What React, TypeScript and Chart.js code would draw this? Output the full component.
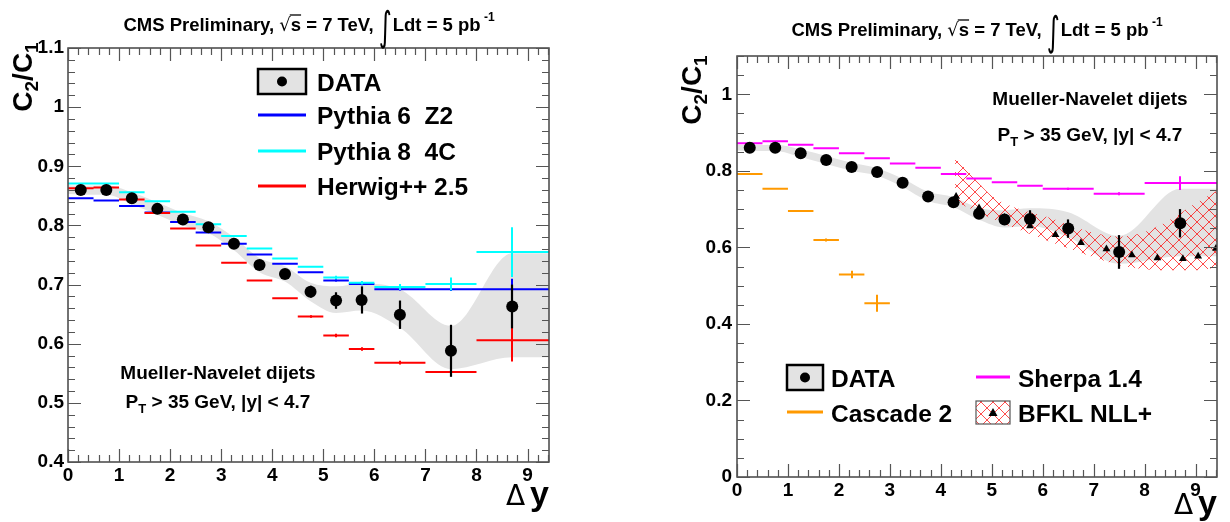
import React, { useEffect, useRef } from "react";
import { Chart, registerables } from "chart.js";
Chart.register(...registerables);

const FONT = "'Liberation Sans', Arial, Helvetica, sans-serif";

// ---------------- data ----------------
const binEdges = [0, 0.5, 1, 1.5, 2, 2.5, 3, 3.5, 4, 4.5, 5, 5.5, 6, 7, 8, 9.42];
const binCenters = [0.25, 0.75, 1.25, 1.75, 2.25, 2.75, 3.25, 3.75, 4.25, 4.75, 5.25, 5.75, 6.5, 7.5, 8.7];

const dataValues = [0.860, 0.860, 0.846, 0.828, 0.810, 0.797, 0.769, 0.733, 0.718, 0.688, 0.673, 0.674, 0.649, 0.588, 0.663];
const dataStatErr = [0.002, 0.002, 0.002, 0.003, 0.003, 0.003, 0.004, 0.004, 0.005, 0.010, 0.014, 0.023, 0.024, 0.044, 0.037];

const sysBandX = [0, 0.25, 0.75, 1.25, 1.75, 2.25, 2.75, 3.25, 3.75, 4.25, 4.75, 5.25, 5.75, 6.5, 7.5, 8.7, 9.42];
const sysBandHigh = [0.868, 0.867, 0.868, 0.856, 0.839, 0.821, 0.807, 0.780, 0.745, 0.731, 0.703, 0.697, 0.702, 0.692, 0.630, 0.753, 0.753];
const sysBandLow = [0.853, 0.852, 0.852, 0.836, 0.818, 0.800, 0.787, 0.758, 0.721, 0.705, 0.672, 0.652, 0.656, 0.627, 0.557, 0.577, 0.577];

const pythia6Z2 = [0.846, 0.842, 0.833, 0.822, 0.806, 0.788, 0.769, 0.751, 0.735, 0.721, 0.707, 0.701, 0.692, 0.692, 0.692];
const pythia6Z2Err = [0, 0, 0, 0, 0, 0, 0, 0, 0, 0, 0.002, 0.002, 0.002, 0.003, 0.018];
const pythia8_4C = [0.871, 0.871, 0.856, 0.841, 0.823, 0.802, 0.782, 0.761, 0.744, 0.730, 0.712, 0.703, 0.696, 0.701, 0.755];
const pythia8_4CErr = [0, 0, 0, 0, 0, 0, 0, 0, 0, 0, 0.003, 0.003, 0.005, 0.011, 0.042];
const herwig25 = [0.863, 0.864, 0.844, 0.821, 0.795, 0.766, 0.737, 0.707, 0.677, 0.646, 0.614, 0.591, 0.568, 0.552, 0.606];
const herwig25Err = [0, 0, 0, 0, 0, 0, 0, 0, 0, 0.002, 0.003, 0.003, 0.003, 0.006, 0.036];

const sherpa14 = [0.872, 0.877, 0.868, 0.859, 0.846, 0.833, 0.819, 0.808, 0.792, 0.780, 0.770, 0.761, 0.753, 0.740, 0.768];
const sherpa14Err = [0, 0, 0, 0, 0, 0, 0, 0, 0, 0, 0, 0, 0.003, 0.004, 0.018];
const cascade2 = [0.792, 0.753, 0.695, 0.619, 0.529, 0.454];
const cascade2Err = [0, 0, 0.002, 0.004, 0.010, 0.022];

const bfklBandX = [4.28, 4.6, 5.0, 5.5, 6.0, 6.5, 7.0, 7.5, 8.0, 8.5, 9.0, 9.42];
const bfklBandHigh = [0.835, 0.790, 0.735, 0.702, 0.683, 0.660, 0.638, 0.628, 0.640, 0.672, 0.715, 0.748];
const bfklBandLow = [0.720, 0.700, 0.675, 0.648, 0.622, 0.598, 0.574, 0.553, 0.543, 0.540, 0.540, 0.548];
const bfklPointX = [4.3, 4.75, 5.25, 5.75, 6.25, 6.75, 7.25, 7.75, 8.25, 8.75, 9.05, 9.4];
const bfklPointY = [0.733, 0.703, 0.678, 0.656, 0.633, 0.612, 0.596, 0.580, 0.572, 0.570, 0.577, 0.597];

const xTicks = [0, 1, 2, 3, 4, 5, 6, 7, 8, 9];
const xTickLabels = ["0", "1", "2", "3", "4", "5", "6", "7", "8", "9"];
const yTicksLeft = [0.4, 0.5, 0.6, 0.7, 0.8, 0.9, 1.0, 1.1];
const yTickLabelsLeft = ["0.4", "0.5", "0.6", "0.7", "0.8", "0.9", "1", "1.1"];
const yTicksRight = [0, 0.2, 0.4, 0.6, 0.8, 1.0];
const yTickLabelsRight = ["0", "0.2", "0.4", "0.6", "0.8", "1"];

// ---------------- helpers ----------------
const W = 615;
const H = 522;

function histPoints(values: number[]) {
  const pts: any[] = [];
  values.forEach((v, i) => {
    pts.push({ x: binEdges[i], y: v }, { x: binEdges[i + 1], y: v }, { x: binEdges[i + 1], y: null });
  });
  return pts;
}

function xy(xs: number[], ys: number[]) {
  return xs.map((x, i) => ({ x, y: ys[i] }));
}

function makeHatch(): CanvasPattern | string {
  const c = document.createElement("canvas");
  c.width = 12;
  c.height = 12;
  const g = c.getContext("2d");
  if (!g) return "rgba(255,0,0,0.3)";
  g.clearRect(0, 0, 12, 12);
  g.strokeStyle = "rgba(255,0,0,0.7)";
  g.lineWidth = 1;
  g.beginPath();
  g.moveTo(-1, -1);
  g.lineTo(13, 13);
  g.moveTo(13, -1);
  g.lineTo(-1, 13);
  g.stroke();
  return g.createPattern(c, "repeat") || "rgba(255,0,0,0.3)";
}

function histDataset(values: number[], errs: number[], color: string, order: number) {
  return {
    type: "line",
    data: histPoints(values),
    borderColor: color,
    borderWidth: 2,
    pointRadius: 0,
    fill: false,
    spanGaps: false,
    order,
    errBars: { x: binCenters.slice(0, values.length), y: values, e: errs, color, width: 2 },
  };
}

const errorBarPlugin = {
  id: "errBars",
  afterDatasetDraw(chart: any, args: any) {
    const ds: any = chart.data.datasets[args.index];
    const eb = ds && ds.errBars;
    if (!eb) return;
    const { ctx, scales } = chart;
    const x = scales.x;
    const y = scales.y;
    ctx.save();
    ctx.strokeStyle = eb.color;
    ctx.lineWidth = eb.width;
    eb.y.forEach((v: number, i: number) => {
      const e = eb.e[i];
      if (!e) return;
      const px = Math.round(x.getPixelForValue(eb.x[i]));
      ctx.beginPath();
      ctx.moveTo(px, y.getPixelForValue(v - e));
      ctx.lineTo(px, y.getPixelForValue(v + e));
      ctx.stroke();
    });
    ctx.restore();
  },
};

function frameTickPlugin(yMinorStep: number, yMajorEvery: number, yMax: number, yMin: number) {
  return {
    id: "frameTicks",
    afterDatasetsDraw(chart: any) {
      const { ctx, chartArea: a, scales } = chart;
      const x = scales.x;
      const y = scales.y;
      ctx.save();
      ctx.strokeStyle = "#444";
      ctx.lineWidth = 1.5;
      ctx.strokeRect(a.left, a.top, a.right - a.left, a.bottom - a.top);
      ctx.lineWidth = 1.2;
      ctx.strokeStyle = "#555";
      ctx.beginPath();
      for (let i = 0; i * 0.2 <= 9.42 + 1e-9; i++) {
        const px = Math.round(x.getPixelForValue(i * 0.2)) + 0.5;
        const len = i % 5 === 0 ? 13 : 7;
        ctx.moveTo(px, a.bottom);
        ctx.lineTo(px, a.bottom - len);
        ctx.moveTo(px, a.top);
        ctx.lineTo(px, a.top + len);
      }
      const n = Math.round((yMax - yMin) / yMinorStep);
      for (let i = 0; i <= n; i++) {
        const py = Math.round(y.getPixelForValue(yMin + i * yMinorStep)) + 0.5;
        const len = i % yMajorEvery === 0 ? 13 : 7;
        ctx.moveTo(a.left, py);
        ctx.lineTo(a.left + len, py);
        ctx.moveTo(a.right, py);
        ctx.lineTo(a.right - len, py);
      }
      ctx.stroke();
      ctx.restore();
    },
  };
}

type Seg = { t: string; font: string; dy?: number; over?: boolean; scaleY?: number; gap?: number };
function drawRich(ctx: CanvasRenderingContext2D, segs: Seg[], x: number, y: number, align: string) {
  let w = 0;
  segs.forEach((s) => {
    ctx.font = s.font;
    w += ctx.measureText(s.t).width + (s.gap || 0);
  });
  let cx = align === "left" ? x : align === "center" ? x - w / 2 : x - w;
  ctx.textBaseline = "alphabetic";
  ctx.textAlign = "left";
  segs.forEach((s) => {
    ctx.font = s.font;
    const sw = ctx.measureText(s.t).width;
    const by = y + (s.dy || 0);
    if (s.scaleY) {
      ctx.save();
      ctx.translate(cx, by);
      ctx.scale(1, s.scaleY);
      ctx.fillText(s.t, 0, 0);
      ctx.restore();
    } else {
      ctx.fillText(s.t, cx, by);
    }
    if (s.over) {
      ctx.save();
      ctx.lineWidth = 1.3;
      ctx.strokeStyle = ctx.fillStyle as string;
      ctx.beginPath();
      ctx.moveTo(cx - 1, by - 16);
      ctx.lineTo(cx + sw, by - 16);
      ctx.stroke();
      ctx.restore();
    }
    cx += sw + (s.gap || 0);
  });
}

function drawTitle(ctx: CanvasRenderingContext2D, cx: number, baseY: number) {
  const f = `bold 18.5px ${FONT}`;
  ctx.fillStyle = "#000";
  drawRich(
    ctx,
    [
      { t: "CMS Preliminary, ", font: f },
      { t: "\u221A", font: `18px 'DejaVu Sans'` },
      { t: "s", font: f, over: true },
      { t: " = 7 TeV, ", font: f },
      { t: "\u222B", font: `25px 'DejaVu Sans'`, dy: 9, scaleY: 1.6, gap: 1 },
      { t: "Ldt = 5 pb", font: f },
      { t: " -1", font: `bold 12px ${FONT}`, dy: -10 },
    ],
    cx,
    baseY,
    "center"
  );
}

function drawYTitle(ctx: CanvasRenderingContext2D, cx: number, cy: number) {
  ctx.save();
  ctx.translate(cx, cy);
  ctx.rotate(-Math.PI / 2);
  ctx.fillStyle = "#000";
  const big = `bold 28px ${FONT}`;
  const sub = `bold 19px ${FONT}`;
  drawRich(
    ctx,
    [
      { t: "C", font: big },
      { t: "2", font: sub, dy: 6 },
      { t: "/C", font: big },
      { t: "1", font: sub, dy: 6 },
    ],
    0,
    10,
    "center"
  );
  ctx.restore();
}

function drawDeltaY(ctx: CanvasRenderingContext2D, rightX: number, baseY: number) {
  ctx.fillStyle = "#000";
  drawRich(
    ctx,
    [
      { t: "\u0394", font: `28px 'DejaVu Sans'`, gap: 5 },
      { t: "y", font: `bold 34px ${FONT}` },
    ],
    rightX,
    baseY,
    "right"
  );
}

function drawAnnot(ctx: CanvasRenderingContext2D, cx: number, y1: number, y2: number) {
  ctx.fillStyle = "#000";
  const f = `bold 19px ${FONT}`;
  drawRich(ctx, [{ t: "Mueller-Navelet dijets", font: f }], cx, y1 + 7, "center");
  drawRich(
    ctx,
    [
      { t: "P", font: f },
      { t: "T", font: `bold 13px ${FONT}`, dy: 5 },
      { t: " > 35 GeV, |y| < 4.7", font: f },
    ],
    cx,
    y2 + 7,
    "center"
  );
}

function drawDataBox(ctx: CanvasRenderingContext2D, x: number, y: number, w: number, h: number) {
  ctx.fillStyle = "#e3e3e3";
  ctx.fillRect(x, y, w, h);
  ctx.strokeStyle = "#000";
  ctx.lineWidth = 2.5;
  ctx.strokeRect(x, y, w, h);
  ctx.fillStyle = "#000";
  ctx.beginPath();
  ctx.arc(x + w / 2, y + h / 2, 5, 0, Math.PI * 2);
  ctx.fill();
}

function legendText(ctx: CanvasRenderingContext2D, t: string, x: number, cy: number) {
  ctx.fillStyle = "#000";
  ctx.font = `bold 24.5px ${FONT}`;
  ctx.textAlign = "left";
  ctx.textBaseline = "alphabetic";
  ctx.fillText(t, x, cy + 9);
}

function legendLine(ctx: CanvasRenderingContext2D, x1: number, x2: number, y: number, color: string) {
  ctx.strokeStyle = color;
  ctx.lineWidth = 3;
  ctx.beginPath();
  ctx.moveTo(x1, y);
  ctx.lineTo(x2, y);
  ctx.stroke();
}

function scalesFor(yMin: number, yMax: number, yTicks: number[], yLabels: string[], areaLeft: number, areaBottom: number, yPad: number, xPad: number) {
  const tickFont = { family: FONT, size: 19, weight: "bold" as const };
  return {
    x: {
      type: "linear",
      min: 0,
      max: 9.42,
      grid: { display: false, drawTicks: false },
      border: { display: false },
      afterBuildTicks: (s: any) => {
        s.ticks = xTicks.map((v) => ({ value: v }));
      },
      afterFit: (s: any) => {
        s.height = H - areaBottom;
      },
      ticks: {
        autoSkip: false,
        maxRotation: 0,
        padding: xPad,
        color: "#000",
        font: tickFont,
        callback: (_v: any, i: number) => xTickLabels[i],
      },
    },
    y: {
      type: "linear",
      min: yMin,
      max: yMax,
      grid: { display: false, drawTicks: false },
      border: { display: false },
      afterBuildTicks: (s: any) => {
        s.ticks = yTicks.map((v) => ({ value: v }));
      },
      afterFit: (s: any) => {
        s.width = areaLeft;
      },
      ticks: {
        autoSkip: false,
        padding: yPad,
        color: "#000",
        font: tickFont,
        callback: (_v: any, i: number) => yLabels[i],
      },
    },
  };
}

function bandDatasets(xs: number[], hi: number[], lo: number[], fillColor: any, order: number) {
  return [
    {
      type: "line",
      data: xy(xs, hi),
      borderWidth: 0,
      borderColor: "rgba(0,0,0,0)",
      pointRadius: 0,
      cubicInterpolationMode: "monotone",
      fill: "+1",
      backgroundColor: fillColor,
      order,
    },
    {
      type: "line",
      data: xy(xs, lo),
      borderWidth: 0,
      borderColor: "rgba(0,0,0,0)",
      pointRadius: 0,
      cubicInterpolationMode: "monotone",
      fill: false,
      order,
    },
  ];
}

function dataDataset(order: number) {
  return {
    type: "line",
    data: xy(binCenters, dataValues),
    showLine: false,
    pointRadius: 6,
    pointBackgroundColor: "#000",
    pointBorderWidth: 0,
    borderColor: "#000",
    order,
    errBars: { x: binCenters, y: dataValues, e: dataStatErr, color: "#000", width: 2.2 },
  };
}

function leftConfig(): any {
  const area = { left: 68, right: 549, top: 48, bottom: 462 };
  const decor = {
    id: "decorLeft",
    afterDraw(chart: any) {
      const ctx = chart.ctx as CanvasRenderingContext2D;
      ctx.save();
      drawTitle(ctx, 309, 31);
      drawYTitle(ctx, 22, 77);
      drawDeltaY(ctx, 549, 505);
      drawAnnot(ctx, 218, 372, 401);
      drawDataBox(ctx, 258, 69, 48, 25);
      legendText(ctx, "DATA", 317, 82);
      legendLine(ctx, 258, 306, 115, "#0000ff");
      legendText(ctx, "Pythia 6  Z2", 317, 115);
      legendLine(ctx, 258, 306, 151, "#00ffff");
      legendText(ctx, "Pythia 8  4C", 317, 151);
      legendLine(ctx, 258, 306, 186, "#ff0000");
      legendText(ctx, "Herwig++ 2.5", 317, 186);
      ctx.restore();
    },
  };
  return {
    data: {
      datasets: [
        dataDataset(0),
        histDataset(herwig25, herwig25Err, "#ff0000", 2),
        histDataset(pythia8_4C, pythia8_4CErr, "#00ffff", 3),
        histDataset(pythia6Z2, pythia6Z2Err, "#0000ff", 4),
        ...bandDatasets(sysBandX, sysBandHigh, sysBandLow, "#e3e3e3", 10),
      ],
    },
    options: {
      responsive: false,
      animation: false,
      events: [],
      layout: { padding: { left: 0, top: area.top, right: W - area.right, bottom: 0 } },
      plugins: { legend: { display: false }, tooltip: { enabled: false }, title: { display: false } },
      scales: scalesFor(0.4, 1.1, yTicksLeft, yTickLabelsLeft, area.left, area.bottom, 4, 2),
    },
    plugins: [errorBarPlugin, frameTickPlugin(0.02, 5, 1.1, 0.4), decor],
  };
}

function rightConfig(): any {
  const area = { left: 122, right: 602, top: 56, bottom: 477 };
  const hatch = makeHatch();
  const decor = {
    id: "decorRight",
    afterDraw(chart: any) {
      const ctx = chart.ctx as CanvasRenderingContext2D;
      ctx.save();
      drawTitle(ctx, 362, 36);
      drawYTitle(ctx, 76, 90);
      drawDeltaY(ctx, 602, 514);
      drawAnnot(ctx, 475, 98, 134);
      drawDataBox(ctx, 172, 365, 36, 25);
      legendText(ctx, "DATA", 216, 378);
      legendLine(ctx, 172, 208, 412, "#ff9900");
      legendText(ctx, "Cascade 2", 216, 413);
      legendLine(ctx, 361, 395, 377, "#ff00ff");
      legendText(ctx, "Sherpa 1.4", 403, 378);
      ctx.fillStyle = "#fff";
      ctx.fillRect(361, 401, 34, 23);
      ctx.fillStyle = hatch as any;
      ctx.fillRect(361, 401, 34, 23);
      ctx.strokeStyle = "#555";
      ctx.lineWidth = 1.2;
      ctx.strokeRect(361, 401, 34, 23);
      ctx.fillStyle = "#000";
      ctx.beginPath();
      ctx.moveTo(378, 408);
      ctx.lineTo(382.5, 416);
      ctx.lineTo(373.5, 416);
      ctx.closePath();
      ctx.fill();
      legendText(ctx, "BFKL NLL+", 403, 413);
      ctx.restore();
    },
  };
  return {
    data: {
      datasets: [
        dataDataset(0),
        {
          type: "line",
          data: xy(bfklPointX, bfklPointY),
          showLine: false,
          pointStyle: "triangle",
          pointRadius: 4.5,
          pointBackgroundColor: "#000",
          pointBorderWidth: 0,
          borderColor: "#000",
          order: 1,
        },
        histDataset(cascade2, cascade2Err, "#ff9900", 2),
        histDataset(sherpa14, sherpa14Err, "#ff00ff", 3),
        ...bandDatasets(bfklBandX, bfklBandHigh, bfklBandLow, hatch, 8),
        ...bandDatasets(sysBandX, sysBandHigh, sysBandLow, "#e3e3e3", 10),
      ],
    },
    options: {
      responsive: false,
      animation: false,
      events: [],
      layout: { padding: { left: 0, top: area.top, right: W - area.right, bottom: 0 } },
      plugins: { legend: { display: false }, tooltip: { enabled: false }, title: { display: false } },
      scales: scalesFor(0, 1.1, yTicksRight, yTickLabelsRight, area.left, area.bottom, 5, 2),
    },
    plugins: [errorBarPlugin, frameTickPlugin(0.05, 4, 1.1, 0), decor],
  };
}

function Panel({ left, build }: { left: number; build: () => any }) {
  const ref = useRef<HTMLCanvasElement | null>(null);
  useEffect(() => {
    if (!ref.current) return;
    const chart = new Chart(ref.current, build());
    return () => chart.destroy();
  }, []);
  return (
    <div style={{ position: "absolute", left, top: 0, width: W, height: H }}>
      <canvas ref={ref} width={W} height={H} style={{ display: "block" }} />
    </div>
  );
}

export default function App() {
  return (
    <div style={{ position: "absolute", left: 0, top: 0, width: 1230, height: 522, background: "#fff" }}>
      <Panel left={0} build={leftConfig} />
      <Panel left={615} build={rightConfig} />
    </div>
  );
}
